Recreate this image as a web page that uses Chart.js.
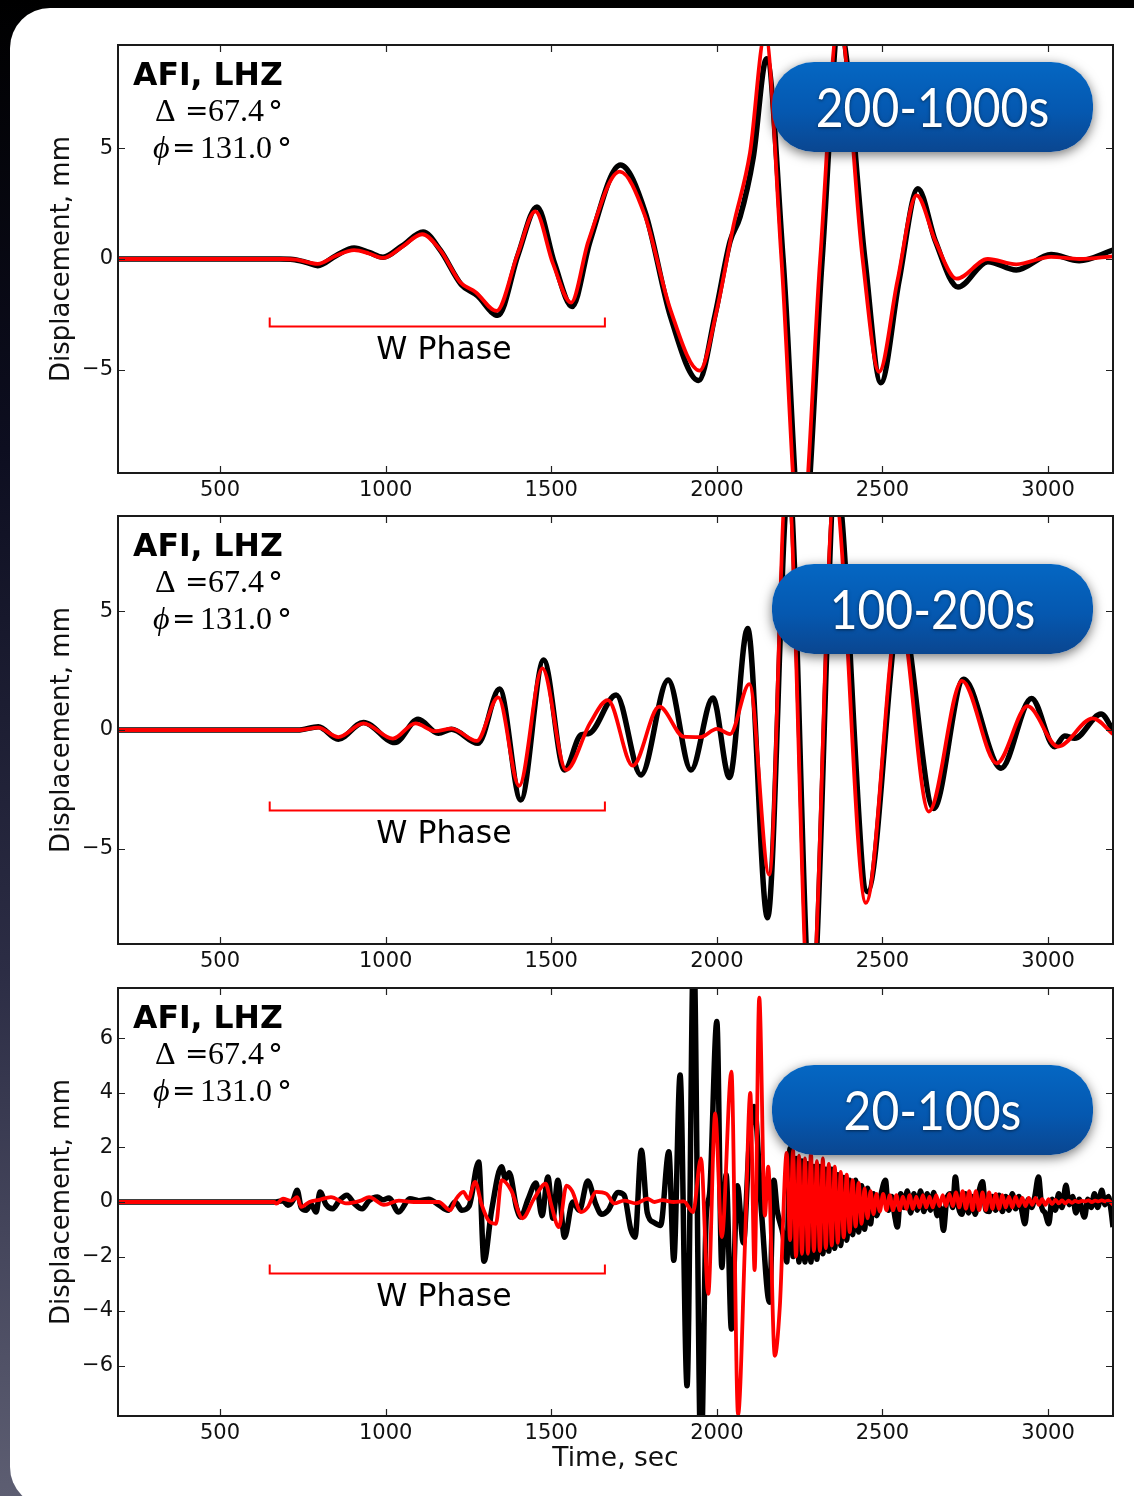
<!DOCTYPE html>
<html>
<head>
<meta charset="utf-8">
<script src="https://cdn.jsdelivr.net/npm/chart.js@4.4.0/dist/chart.umd.min.js"></script>
<style>
  html, body { margin: 0; padding: 0; }
  body {
    width: 1134px; height: 1496px; overflow: hidden; position: relative;
    background: linear-gradient(180deg, #000 0%, #0d0e20 30%, #2c2d45 65%, #5d5e72 100%);
  }
  .card {
    position: absolute; left: 10px; top: 8px; width: 1200px; height: 1499px;
    background: #fff; border-radius: 40px;
  }
  canvas { position: absolute; left: 0; }
  .badge {
    position: absolute; left: 772px; width: 321px; height: 90px; border-radius: 42px;
    background: linear-gradient(180deg, #0567c3 0%, #0558b0 55%, #0a4690 100%);
    box-shadow: 0 3px 12px rgba(0, 0, 0, 0.55);
    color: #fff; font: 48px "Lato"; line-height: 90px; text-align: center;
    text-shadow: 0 1px 3px rgba(0, 0, 0, 0.55);
  }
  .badge span { display: inline-block; transform: scaleY(1.12); }
</style>
</head>
<body>
<div class="card"></div>
<canvas id="band1" width="1134" height="478" style="top:35px"></canvas>
<canvas id="band2" width="1134" height="478" style="top:506px"></canvas>
<canvas id="band3" width="1134" height="513" style="top:978px"></canvas>
<div class="badge" style="top:62px"><span id="badge1"></span></div>
<div class="badge" style="top:564px"><span id="badge2"></span></div>
<div class="badge" style="top:1065px"><span id="badge3"></span></div>
<script>
// ---- data: [time (s), displacement (mm)] ----
const bandLabels = ['200-1000s', '100-200s', '20-100s'];
const station = 'AFI, LHZ';
const delta = '67.4';
const azimuth = '131.0';
const timeRange = [192, 3196];
const xTicks = [500, 1000, 1500, 2000, 2500, 3000];
const yLimits = [9.68, 9.0, 7.85];
const yTicks = [[-5, 0, 5], [-5, 0, 5], [-6, -4, -2, 0, 2, 4, 6]];
const wPhaseSpan = [650, 1662];
const wPhaseLevel = [-3.03, -3.36, -2.61];

const band1Data = [
  [192,0],[680,0],[720,-0.02],[760,-0.15],[795,-0.3],[850,0.15],[905,0.5],[950,0.3],[992,0.08],
  [1050,0.6],[1113,1.22],[1165,0.4],[1228,-1.15],[1276,-1.65],[1339,-2.55],[1400,0.2],[1457,2.35],
  [1510,-0.2],[1563,-2.15],[1617,0.8],[1709,4.25],[1784,2.1],[1860,-2.6],[1945,-5.5],[1995,-2.5],
  [2040,0.8],[2070,1.9],[2110,4.6],[2150,9.06],[2200,0],[2258,-13],[2318,0],[2370,10.5],[2447,0],
  [2495,-5.6],[2550,-1],[2607,3.18],[2660,0.8],[2728,-1.27],[2818,-0.12],[2904,-0.5],[3009,0.2],
  [3094,-0.08],[3196,0.4]
];
const band1Synth = [
  [192,0],[690,0],[730,-0.03],[795,-0.22],[850,0.15],[905,0.4],[950,0.25],[992,0.05],[1050,0.55],
  [1110,1.12],[1165,0.4],[1225,-1.05],[1272,-1.5],[1335,-2.35],[1398,0.2],[1452,2.15],[1505,-0.2],
  [1560,-1.97],[1612,0.8],[1707,3.95],[1782,2.0],[1860,-2.3],[1948,-5.05],[2000,-2.3],[2050,1.5],
  [2100,4.8],[2146,10.2],[2195,0],[2252,-13],[2312,0],[2368,10.8],[2440,0],[2490,-5.1],[2545,-1],
  [2603,2.88],[2660,0.8],[2724,-0.89],[2818,0],[2904,-0.24],[3009,0.1],[3094,0],[3196,0.12]
];

const band2Data = [
  [192,0],[735,0],[797,0.14],[857,-0.39],[933,0.32],[1028,-0.53],[1098,0.45],[1159,-0.14],
  [1199,0.03],[1279,-0.56],[1344,1.72],[1408,-2.94],[1477,2.94],[1540,-1.68],[1590,-0.2],
  [1615,-0.14],[1696,1.47],[1771,-1.89],[1853,2.1],[1922,-1.68],[1988,1.35],[2038,-2.0],
  [2093,4.27],[2153,-7.9],[2217,10.5],[2285,-12],[2360,10.5],[2455,-6.8],[2555,5.0],[2655,-3.3],
  [2745,2.13],[2858,-1.61],[2950,1.33],[3020,-0.7],[3050,-0.25],[3080,-0.35],[3160,0.67],[3196,0]
];
const band2Synth = [
  [192,0],[735,0],[797,0.1],[857,-0.3],[933,0.28],[1022,-0.36],[1090,0.28],[1150,-0.05],
  [1199,0.06],[1275,-0.46],[1340,1.37],[1403,-2.35],[1473,2.59],[1545,-1.68],[1617,0.28],
  [1671,1.26],[1746,-1.5],[1826,0.98],[1900,-0.28],[1950,-0.3],[2000,0.05],[2040,-0.17],
  [2098,1.93],[2158,-6.08],[2212,11],[2282,-12.5],[2355,10],[2450,-7.27],[2550,5.0],[2640,-3.43],
  [2740,2.07],[2845,-1.4],[2938,1.0],[3030,-0.7],[3135,0.49],[3196,-0.17]
];

const band3Data = [
  [192,0],[664,0],[690,0.05],[705,-0.12],[720,0.05],[733,0.43],[745,-0.2],[760,-0.3],[775,-0.08],
  [790,-0.37],[802,0.37],[820,-0.1],[840,-0.25],[860,0.05],[883,0.25],[905,-0.05],[929,-0.25],
  [950,0.05],[975,0.18],[992,0.08],[1010,0.15],[1039,-0.37],[1073,0.12],[1100,0.05],[1130,0.1],
  [1160,-0.1],[1189,-0.3],[1210,0],[1230,-0.3],[1252,-0.15],[1281,1.47],[1297,-2.17],[1320,-0.3],
  [1350,1.29],[1362,0.85],[1373,1.07],[1395,-0.2],[1408,-0.55],[1430,0.1],[1454,0.7],[1472,-0.5],
  [1490,0.92],[1505,-0.6],[1520,0.8],[1540,-1.29],[1565,0],[1585,-0.3],[1610,0.77],[1635,-0.1],
  [1652,-0.45],[1672,-0.3],[1702,0.35],[1720,0.25],[1740,-1.0],[1753,-1.29],[1772,1.9],[1790,-0.4],
  [1810,-0.75],[1830,-0.86],[1855,1.84],[1870,-2.14],[1889,4.66],[1910,-6.74],[1930,9.5],
  [1952,-9.5],[1968,-0.5],[1978,0.3],[2000,6.62],[2015,-2.4],[2028,1.0],[2044,-4.66],[2062,0.6],
  [2080,-1.5],[2098,2.2],[2113,3.5],[2135,-0.4],[2159,-3.68],[2172,0.8],[2182,-0.3],[2200,-1.2],
  [2211,-2.2],[2221,1.96],[2230,-2.0],[2239,1.6],[2248,-2.2],[2257,1.5],[2266,-2.2],[2275,1.4],
  [2284,-2.2],[2293,1.3],[2302,-2.1],[2311,1.3],[2320,-1.9],[2329,1.2],[2338,-1.8],[2347,1.2],
  [2356,-1.7],[2365,1.0],[2374,-1.6],[2383,0.9],[2392,-1.4],[2401,0.8],[2410,-1.2],[2419,0.8],
  [2428,-1.1],[2437,0.6],[2446,-1.0],[2455,0.5],[2464,-0.8],[2473,0.3],[2482,-0.5],[2496,0.3],
  [2509,0.8],[2518,-0.3],[2528,0.2],[2537,-0.5],[2545,-0.92],[2555,0.3],[2565,-0.2],[2575,0.4],
  [2585,-0.4],[2595,0.3],[2605,-0.3],[2615,0.4],[2625,-0.35],[2635,0.3],[2645,-0.3],[2655,0.35],
  [2665,-0.5],[2675,-0.2],[2684,-1.04],[2694,0.1],[2704,0.3],[2712,-0.2],[2720,0.92],[2730,-0.2],
  [2740,-0.45],[2750,0.3],[2760,-0.4],[2770,0.2],[2780,-0.45],[2790,0.3],[2802,0.74],[2812,-0.3],
  [2822,-0.35],[2832,0.2],[2842,-0.3],[2852,0.25],[2862,-0.35],[2872,0.2],[2882,-0.3],[2892,0.3],
  [2902,-0.25],[2912,0.2],[2922,-0.4],[2930,-0.8],[2940,0.1],[2950,-0.2],[2960,0.2],[2971,0.92],
  [2981,-0.2],[2991,-0.4],[3002,-0.8],[3012,0.1],[3022,-0.3],[3032,0.3],[3042,-0.2],[3054,0.61],
  [3064,-0.1],[3074,0.2],[3084,-0.4],[3094,0.1],[3102,-0.3],[3110,-0.55],[3120,0.1],[3130,-0.2],
  [3140,0.3],[3150,-0.2],[3162,0.43],[3172,-0.1],[3182,0.2],[3190,-0.3],[3196,-0.92]
];
const band3Synth = [
  [192,0],[664,0],[670,-0.06],[690,0.12],[715,0.05],[733,0.18],[745,-0.18],[770,0],[800,0.08],
  [835,0.18],[880,-0.05],[925,0.05],[950,0.18],[995,-0.1],[1040,0.05],[1085,0],[1130,0],[1160,0],
  [1195,-0.3],[1212,0.1],[1235,0.37],[1250,0.1],[1270,0.74],[1290,-0.1],[1310,-0.67],[1333,-0.8],
  [1350,0.8],[1379,0.43],[1413,-0.6],[1448,0.12],[1483,0.67],[1500,-0.1],[1523,-0.92],[1546,0.6],
  [1563,0.4],[1590,-0.37],[1610,-0.2],[1635,0.37],[1667,0.3],[1690,-0.05],[1720,0.05],[1755,-0.05],
  [1790,0.12],[1812,0],[1835,0.07],[1870,0],[1900,0.02],[1928,-0.37],[1952,1.6],[1974,-3.37],
  [1995,3.25],[2015,-1.29],[2044,4.78],[2064,-7.8],[2085,-1.5],[2101,4.0],[2114,-2.5],[2128,7.5],
  [2145,-0.5],[2155,1.3],[2175,-5.64],[2190,-3.86],[2211,1.8],[2221,-1.4],[2230,1.9],[2239,-2.0],
  [2248,1.7],[2257,-1.9],[2266,1.6],[2275,-1.9],[2284,1.8],[2293,-1.8],[2302,1.5],[2311,-1.8],
  [2320,1.6],[2329,-1.7],[2338,1.4],[2347,-1.6],[2356,1.3],[2365,-1.5],[2374,1.1],[2383,-1.3],
  [2392,1.0],[2401,-1.1],[2410,0.8],[2419,-0.9],[2428,0.7],[2437,-0.8],[2446,0.5],[2455,-0.6],
  [2464,0.4],[2473,-0.45],[2482,0.3],[2492,-0.35],[2502,0.3],[2512,-0.3],[2522,0.25],[2532,-0.3],
  [2542,0.25],[2552,-0.3],[2562,0.2],[2572,-0.25],[2582,0.25],[2592,-0.25],[2602,0.2],[2612,-0.2],
  [2622,0.25],[2632,-0.2],[2642,0.2],[2652,-0.2],[2662,0.25],[2672,-0.15],[2682,0.25],[2692,-0.15],
  [2702,0.3],[2712,-0.15],[2722,0.35],[2732,-0.2],[2742,0.4],[2752,-0.25],[2762,0.4],[2772,-0.3],
  [2782,0.4],[2792,-0.3],[2802,0.35],[2812,-0.3],[2822,0.35],[2832,-0.25],[2842,0.3],[2852,-0.25],
  [2862,0.25],[2872,-0.2],[2882,0.2],[2892,-0.2],[2902,0.2],[2912,-0.15],[2922,0.15],[2932,-0.15],
  [2942,0.15],[2952,-0.1],[2962,0.15],[2972,-0.1],[2982,0.1],[2992,-0.1],[3002,0.1],[3012,-0.08],
  [3022,0.08],[3032,-0.05],[3042,0.06],[3052,-0.05],[3062,0.05],[3072,-0.03],[3082,0.04],[3092,0],
  [3102,0.04],[3112,0.02],[3122,0.06],[3132,0],[3142,0.05],[3152,0.02],[3162,0.06],[3172,0.02],
  [3182,0.05],[3196,-0.1]
];

const fontSans = '"DejaVu Sans", "Bitstream Vera Sans", sans-serif';
const fontSerif = '"Liberation Serif", "DejaVu Serif", serif';
Chart.defaults.font.family = fontSans;
Chart.defaults.color = '#111';

// inward ticks on all four sides + black frame, matplotlib style
const frame = {
  id: 'frame',
  afterDraw(chart) {
    const { ctx, chartArea: a, scales: { x, y } } = chart;
    ctx.save();
    ctx.strokeStyle = '#222';
    ctx.lineWidth = 1.2;
    ctx.beginPath();
    x.ticks.forEach(t => {
      const px = Math.round(x.getPixelForValue(t.value)) + 0.5;
      ctx.moveTo(px, a.top); ctx.lineTo(px, a.top + 7);
      ctx.moveTo(px, a.bottom); ctx.lineTo(px, a.bottom - 7);
    });
    y.ticks.forEach(t => {
      const py = Math.round(y.getPixelForValue(t.value)) + 0.5;
      ctx.moveTo(a.left, py); ctx.lineTo(a.left + 7, py);
      ctx.moveTo(a.right, py); ctx.lineTo(a.right - 7, py);
    });
    ctx.stroke();
    ctx.lineWidth = 2;
    ctx.strokeStyle = '#1a1a1a';
    ctx.strokeRect(a.left, a.top, a.width, a.height);
    ctx.restore();
  }
};

// station text + W phase bracket
const decor = {
  id: 'decor',
  afterDatasetsDraw(chart, args, opts) {
    const { ctx, chartArea: a, scales: { x, y } } = chart;
    const L = a.left, T = a.top;
    ctx.save();
    ctx.fillStyle = '#000';
    ctx.textAlign = 'left';
    ctx.textBaseline = 'alphabetic';
    ctx.font = 'bold 31.5px ' + fontSans;
    ctx.fillText(station, L + 15, T + 40);

    // Δ line
    ctx.font = '32px ' + fontSerif;
    ctx.fillText('\u0394', L + 37, T + 76);
    ctx.font = '28px "DejaVu Serif", serif';
    ctx.fillText('=', L + 67, T + 75);
    ctx.font = '32px ' + fontSerif;
    ctx.fillText(delta, L + 90, T + 76);
    ctx.font = '30px "DejaVu Serif", serif';
    ctx.fillText('\u00b0', L + 150, T + 77);

    // φ line
    ctx.font = 'italic 32px ' + fontSerif;
    ctx.fillText('\u03d5', L + 35, T + 113);
    ctx.font = '28px "DejaVu Serif", serif';
    ctx.fillText('=', L + 54, T + 112);
    ctx.font = '32px ' + fontSerif;
    ctx.fillText(azimuth, L + 82, T + 113);
    ctx.font = '30px "DejaVu Serif", serif';
    ctx.fillText('\u00b0', L + 159, T + 114);

    // W phase bracket
    const x0 = x.getPixelForValue(wPhaseSpan[0]);
    const x1 = x.getPixelForValue(wPhaseSpan[1]);
    const yb = Math.round(y.getPixelForValue(opts.level)) + 0.5;
    ctx.strokeStyle = '#ff0000';
    ctx.lineWidth = 2;
    ctx.beginPath();
    ctx.moveTo(x0, yb - 9); ctx.lineTo(x0, yb); ctx.lineTo(x1, yb); ctx.lineTo(x1, yb - 9);
    ctx.stroke();
    ctx.font = '31.5px ' + fontSans;
    ctx.textAlign = 'center';
    ctx.textBaseline = 'middle';
    ctx.fillText('W Phase', x.getPixelForValue(1176), yb + 24);
    ctx.restore();
  }
};

function trace(points, color, width, order) {
  return {
    data: points.map(([t, v]) => ({ x: t, y: v })),
    borderColor: color,
    borderWidth: width,
    order: order,
    pointRadius: 0,
    cubicInterpolationMode: 'monotone',
    clip: 0,
    fill: false
  };
}

function makeBand(id, i, observed, synthetic, lastOne) {
  const ctx = document.getElementById(id).getContext('2d');
  const lim = yLimits[i];
  return new Chart(ctx, {
    type: 'line',
    data: { datasets: [trace(observed, '#000000', 5.5, 2), trace(synthetic, '#ff0000', 3.8, 1)] },
    options: {
      responsive: false,
      animation: false,
      layout: { padding: { top: 10, right: 21, bottom: 0, left: 0 } },
      plugins: { legend: { display: false }, tooltip: { enabled: false }, decor: { level: wPhaseLevel[i] } },
      scales: {
        x: {
          type: 'linear', min: timeRange[0], max: timeRange[1],
          grid: { display: false, drawTicks: false }, border: { display: false },
          afterBuildTicks: s => { s.ticks = xTicks.map(v => ({ value: v })); },
          afterFit: s => { s.height = lastOne ? 75 : 40; s.paddingLeft = 0; s.paddingRight = 0; },
          ticks: { font: { size: 21 }, padding: 5, maxRotation: 0, callback: v => String(v) },
          title: { display: lastOne, text: 'Time, sec', font: { size: 26.5 }, padding: { top: 0, bottom: 16 }, color: '#111' }
        },
        y: {
          type: 'linear', min: -lim, max: lim,
          grid: { display: false, drawTicks: false }, border: { display: false },
          afterBuildTicks: s => { s.ticks = yTicks[i].map(v => ({ value: v })); },
          afterFit: s => { s.width = 118; s.paddingTop = 0; s.paddingBottom = 0; },
          ticks: { font: { size: 21 }, padding: 5, callback: v => String(v).replace('-', '\u2212') },
          title: { display: true, text: 'Displacement, mm', font: { size: 26 }, padding: { top: 46.4, bottom: 0 }, color: '#111' }
        }
      }
    },
    plugins: [decor, frame]
  });
}

makeBand('band1', 0, band1Data, band1Synth, false);
makeBand('band2', 1, band2Data, band2Synth, false);
makeBand('band3', 2, band3Data, band3Synth, true);
bandLabels.forEach((t, i) => { document.getElementById('badge' + (i + 1)).textContent = t; });
</script>
</body>
</html>
